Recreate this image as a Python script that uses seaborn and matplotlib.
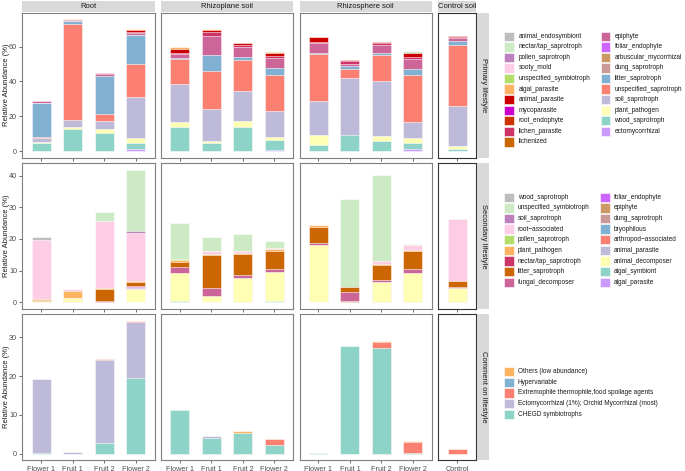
import matplotlib
matplotlib.use("Agg")
import matplotlib.pyplot as plt
from matplotlib.patches import Rectangle
import numpy as np
import pandas as pd
import seaborn as sns

W, H = 685, 471

# ---- data ---------------------------------------------------------------
sites = ["Root", "Rhizoplane soil", "Rhizosphere soil", "Control soil"]
site_samples = {
    "Root": ["Flower 1", "Fruit 1", "Fruit 2", "Flower 2"],
    "Rhizoplane soil": ["Flower 1", "Fruit 1", "Fruit 2", "Flower 2"],
    "Rhizosphere soil": ["Flower 1", "Fruit 1", "Fruit 2", "Flower 2"],
    "Control soil": ["Control"],
}
row_names = ["Primary lifestyle", "Secondary lifestyle", "Comment on lifestyle"]

# legend order (first level sits on top of the stack)
primary_levels = [
    "animal_endosymbiont", "nectar/tap_saprotroph", "pollen_saprotroph", "sooty_mold",
    "unspecified_symbiotroph", "algal_parasite", "animal_parasite", "mycoparasite",
    "root_endophyte", "lichen_parasite", "lichenized", "epiphyte", "foliar_endophyte",
    "arbuscular_mycorrhizal", "dung_saprotroph", "litter_saprotroph",
    "unspecified_saprotroph", "soil_saprotroph", "plant_pathogen", "wood_saprotroph",
    "ectomycorrhizal",
]
primary_colors = [
    "#BEBEBE", "#CCEBC5", "#BC80BD", "#FCCDE5", "#B3DE69", "#FDB462", "#CC0000",
    "#CC00CC", "#CC3300", "#CC3366", "#CC6600", "#CC6699", "#CC66FF", "#CC9966",
    "#CC9999", "#80B1D3", "#FB8072", "#BEBADA", "#FFFFB3", "#8DD3C7", "#CC99FF",
]
secondary_levels = [
    "wood_saprotroph", "unspecified_symbiotroph", "soil_saprotroph", "root\u2212associated",
    "pollen_saprotroph", "plant_pathogen", "nectar/tap_saprotroph", "litter_saprotroph",
    "fungal_decomposer", "foliar_endophyte", "epiphyte", "dung_saprotroph", "bryophilous",
    "arthropod\u2212associated", "animal_parasite", "animal_decomposer", "algal_symbiont",
    "algal_parasite",
]
secondary_colors = [
    "#BEBEBE", "#CCEBC5", "#BC80BD", "#FCCDE5", "#B3DE69", "#FDB462", "#CC3366",
    "#CC6600", "#CC6699", "#CC66FF", "#CC9966", "#CC9999", "#80B1D3", "#FB8072",
    "#BEBADA", "#FFFFB3", "#8DD3C7", "#CC99FF",
]
comment_levels = [
    "Others (low abundance)", "Hypervariable", "Extremophile thermophile,food spoilage agents",
    "Ectomycorrhizal (1%); Orchid Mycorrhizal (most)", "CHEGD symbiotrophs",
]
comment_colors = ["#FDB462", "#80B1D3", "#FB8072", "#BEBADA", "#8DD3C7"]

# segment heights, bar order: Root x4, Rhizoplane x4, Rhizosphere x4, Control
primary_values = {
    "ectomycorrhizal":        [0, 0, 0, 1.0, 0, 0, 0, 0.6, 0, 0, 0, 1.1, 0],
    "wood_saprotroph":        [4.8, 12.5, 10.5, 3.4, 14.0, 4.8, 14.0, 5.7, 3.5, 9.0, 5.9, 3.5, 1.3],
    "plant_pathogen":         [0.3, 1.1, 2.1, 3.3, 2.5, 1.2, 3.0, 1.9, 5.7, 0, 2.7, 2.9, 1.8],
    "soil_saprotroph":        [2.3, 4.2, 4.6, 23.4, 22.2, 18.2, 17.7, 15.0, 19.8, 33.0, 31.8, 9.0, 22.8],
    "unspecified_saprotroph": [0.8, 55.2, 4.3, 19.1, 14.0, 21.8, 17.6, 20.5, 26.6, 5.3, 14.8, 27.4, 35.1],
    "litter_saprotroph":      [19.2, 1.6, 21.8, 16.3, 0.8, 9.2, 1.9, 4.2, 0.9, 1.4, 1.3, 3.3, 2.1],
    "foliar_endophyte":       [0.4, 0, 0, 0.3, 0, 0, 0, 0, 0, 0, 0, 0, 0],
    "epiphyte":               [0.7, 0.3, 0.8, 1.0, 2.3, 10.9, 5.8, 5.4, 5.4, 1.1, 4.6, 5.5, 2.1],
    "lichen_parasite":        [0.2, 0.3, 0.6, 0.5, 0.4, 2.3, 1.0, 1.3, 0.6, 2.0, 0.8, 1.5, 0.4],
    "animal_parasite":        [0, 0.3, 0, 1.3, 2.5, 1.2, 0.9, 1.6, 2.9, 0.5, 0.8, 2.0, 0.7],
    "algal_parasite":         [0, 0.2, 0, 0.3, 0.9, 0.4, 0.3, 0.9, 0.3, 0, 0, 0, 0],
    "nectar/tap_saprotroph":  [0, 0, 0, 0, 0, 0, 0, 0.6, 0, 0, 0, 1.3, 0],
}
secondary_values = {
    "algal_symbiont":          [0, 0, 0, 0.2, 0.4, 0.2, 0, 0.5, 0.1, 0, 0, 0, 0],
    "animal_decomposer":       [0.4, 1.2, 0, 4.0, 8.8, 1.8, 7.8, 9.0, 18.0, 0, 6.5, 9.2, 4.4],
    "animal_parasite":         [0, 0, 0, 0.3, 0, 0, 0, 0, 0, 0, 0, 0, 0],
    "epiphyte":                [0, 0, 0, 0, 0, 0, 0, 0, 0, 0.5, 0, 0, 0],
    "foliar_endophyte":        [0, 0, 0, 0.3, 0, 0, 0, 0, 0, 0, 0, 0, 0],
    "fungal_decomposer":       [0, 0, 0.5, 0.4, 1.9, 2.4, 0.8, 1.0, 0.5, 2.8, 0.6, 1.2, 0.5],
    "litter_saprotroph":       [0.3, 0, 3.7, 1.2, 1.7, 10.6, 6.6, 5.8, 5.3, 1.4, 4.7, 5.8, 1.8],
    "nectar/tap_saprotroph":   [0, 0.3, 0, 0, 0, 0, 0, 0, 0, 0, 0, 0, 0],
    "plant_pathogen":          [0.2, 2.0, 0.4, 0.3, 0.5, 0.2, 0.4, 0.4, 0.4, 0, 0.3, 0.3, 0],
    "pollen_saprotroph":       [0, 0, 0, 0, 0.3, 0.2, 0, 0, 0, 0, 0, 0, 0],
    "root\u2212associated":     [18.8, 0.7, 21.1, 15.3, 0, 0.8, 0.7, 0.5, 0, 0, 0.9, 1.5, 19.5],
    "soil_saprotroph":         [0, 0, 0, 0.4, 0, 0, 0, 0, 0, 0, 0, 0, 0],
    "unspecified_symbiotroph": [0, 0, 2.8, 19.4, 11.3, 4.4, 5.2, 2.3, 0, 27.8, 27.3, 0.3, 0],
    "wood_saprotroph":         [0.8, 0, 0, 0, 0.2, 0, 0, 0, 0, 0, 0, 0, 0.1],
}
comment_values = {
    "CHEGD symbiotrophs": [0.3, 0, 2.8, 19.4, 11.2, 4.1, 5.3, 2.2, 0.2, 27.7, 27.2, 0.3, 0],
    "Ectomycorrhizal (1%); Orchid Mycorrhizal (most)":
        [18.9, 0.4, 21.4, 14.6, 0.1, 0.5, 0, 0, 0, 0, 0, 0, 0],
    "Extremophile thermophile,food spoilage agents":
        [0, 0, 0.1, 0.3, 0, 0, 0, 1.5, 0, 0, 1.7, 2.8, 1.1],
    "Others (low abundance)": [0, 0, 0, 0, 0, 0, 0.5, 0.1, 0, 0, 0.2, 0.1, 0.2],
}
row_yticks = [[0, 20, 40, 60], [0, 10, 20, 30, 40], [0, 10, 20, 30]]

bar_site = ["Root"] * 4 + ["Rhizoplane soil"] * 4 + ["Rhizosphere soil"] * 4 + ["Control soil"]

# ---- layout (pixels, origin top-left) ----------------------------------
col_left = [22.3, 161.0, 299.5, 438.3]
unit = 31.5
row_box = [(12.7, 157.6), (163.4, 308.9), (314.0, 460.4)]
strip_top = (0.5, 12.3)
strip_right = (477.0, 489.0)

sns.set_style("white")
plt.rcParams["font.family"] = ["Liberation Sans", "DejaVu Sans"]

fig = plt.figure(figsize=(W / 100, H / 100), dpi=100)


def fx(px):
    return px / W


def fy(py):
    return 1 - py / H


def rect(x0, y0, x1, y1, **kw):
    fig.add_artist(Rectangle((fx(x0), fy(y1)), (x1 - x0) / W, (y1 - y0) / H,
                             transform=fig.transFigure, **kw))


rows = [
    (primary_levels, primary_colors, primary_values),
    (secondary_levels, secondary_colors, secondary_values),
    (comment_levels, comment_colors, comment_values),
]

for r, (levels, colors, values) in enumerate(rows):
    col_of = dict(zip(levels, colors))
    # long table of all segments for this row
    recs = []
    for lev, vals in values.items():
        for i, v in enumerate(vals):
            recs.append((bar_site[i], i, lev, v))
    df = pd.DataFrame(recs, columns=["site", "bar", "level", "value"])
    totals = df.groupby("bar")["value"].sum()
    ymax = totals.max()
    top, bot = row_box[r]

    for c, site in enumerate(sites):
        order = site_samples[site]
        n = len(order)
        x0 = col_left[c]
        wpx = (n + 0.2) * unit
        ax = fig.add_axes([fx(x0), fy(bot), wpx / W, (bot - top) / H])

        sub = df[df.site == site]
        seg = sub.pivot(index="bar", columns="level", values="value")
        seg = seg.reindex(columns=levels[::-1]).fillna(0)
        seg.index = order
        cum = seg.cumsum(axis=1)
        for lev in levels:  # tallest cumulative first, lower layers painted over
            mask = seg[lev] > 0
            if not mask.any():
                continue
            sns.barplot(x=list(np.array(order)[mask.values]), y=cum[lev][mask].values,
                        order=order, color=col_of[lev], saturation=1, width=0.6,
                        errorbar=None, edgecolor="white", linewidth=0.4, ax=ax)

        ax.set_xlim(-0.6, n - 0.4)
        ax.set_ylim(-0.05 * ymax, 1.05 * ymax)
        ax.set_xlabel("")
        ax.set_ylabel("")
        edge = "#333333" if site == "Control soil" else "#7F7F7F"
        for sp in ax.spines.values():
            sp.set_visible(True)
            sp.set_color(edge)
            sp.set_linewidth(0.8)
        ax.tick_params(axis="both", length=2.5, width=0.5, color="#333333",
                       labelsize=5.2, labelcolor="#4D4D4D", pad=1.2,
                       bottom=True, left=(c == 0))
        ax.set_xticks(range(n))
        if r == len(rows) - 1:
            ax.set_xticklabels(order)
        else:
            ax.set_xticklabels([])
        if c == 0:
            ax.set_yticks(row_yticks[r])
        else:
            ax.set_yticks([])

        if r == 0:
            rect(x0, strip_top[0], x0 + wpx, strip_top[1], facecolor="#D9D9D9", edgecolor="none")
            fig.text(fx(x0 + wpx / 2), fy((strip_top[0] + strip_top[1]) / 2), site,
                     ha="center", va="center", fontsize=5.5, color="#1A1A1A")

    # right strip
    rect(strip_right[0], top, strip_right[1], bot, facecolor="#D9D9D9", edgecolor="none")
    fig.text(fx((strip_right[0] + strip_right[1]) / 2), fy((top + bot) / 2), row_names[r],
             ha="center", va="center", rotation=-90, fontsize=5.5, color="#1A1A1A")
    # y label
    fig.text(fx(7), fy((top + bot) / 2), "Relative Abundance (%)", ha="center",
             va="center", rotation=90, fontsize=5.5, color="#1A1A1A")


def legend(levels, colors, first_y, pitch, nrow, cols_x):
    for k, (lab, colr) in enumerate(zip(levels, colors)):
        ci, ri = divmod(k, nrow)
        kx, tx = cols_x[ci]
        cy = first_y + ri * pitch
        rect(kx, cy - 4.7, kx + 9.5, cy + 4.7, facecolor=colr, edgecolor="white", linewidth=0.4)
        fig.text(fx(tx), fy(cy), lab, ha="left", va="center", fontsize=4.7, color="#1A1A1A")


legend(primary_levels, primary_colors, 36.3, 10.56, 11, [(504.3, 518.3), (600.8, 614.5)])
legend(secondary_levels, secondary_colors, 197.2, 10.64, 9, [(504.0, 517.7), (600.3, 613.8)])
legend(comment_levels, comment_colors, 371.7, 10.65, 5, [(504.0, 517.7)])

fig.savefig("out.png", dpi=100)
